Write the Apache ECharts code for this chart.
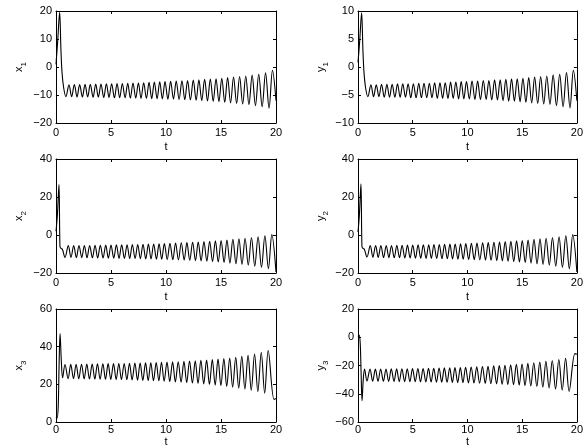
<!DOCTYPE html>
<html><head><meta charset="utf-8">
<script src="https://cdn.jsdelivr.net/npm/echarts@6/dist/echarts.min.js"></script>
<style>html,body{margin:0;padding:0;background:#fff}#c{width:586px;height:448px}</style>
</head><body><div id="c"></div>
<script>
// ---------- tick values ----------
const tTicks = [0, 5, 10, 15, 20];

// ---------- top row (x1, y1): times of extrema ----------
const topHeadT = [0, 0.15, 0.33, 0.45, 0.55, 0.7, 0.9];
const topPkT = [1.18,1.67,2.15,2.64,3.12,3.61,4.09,4.58,5.06,5.55,6.03,6.52,7.00,7.49,7.97,8.46,8.94,9.43,9.91,10.42,10.93,11.45,11.96,12.48,12.99,13.51,14.03,14.55,15.07,15.60,16.14,16.69,17.25,17.83,18.43,19.05,19.68];
const topTrT = [1.42,1.91,2.40,2.88,3.37,3.85,4.34,4.82,5.31,5.79,6.28,6.76,7.25,7.73,8.22,8.70,9.19,9.67,10.17,10.68,11.19,11.71,12.22,12.74,13.25,13.77,14.29,14.81,15.34,15.87,16.42,16.97,17.54,18.13,18.74,19.37];
const topEndT = [20];

const x1HeadV = [1, 9, 19.5, 6, -2, -7.5, -10.6];
const x1PkV = [-6.4,-6.3,-6.3,-6.2,-6.2,-6.1,-6.1,-6.0,-6.0,-5.9,-5.9,-5.8,-5.7,-5.7,-5.6,-5.5,-5.4,-5.3,-5.2,-5.1,-5.0,-4.9,-4.8,-4.7,-4.6,-4.4,-4.3,-4.2,-4.0,-3.8,-3.6,-3.4,-3.2,-2.9,-2.6,-2.1,-1.2];
const x1TrV = [-10.6,-10.7,-10.7,-10.7,-10.8,-10.8,-10.9,-10.9,-11.0,-11.0,-11.0,-11.1,-11.1,-11.2,-11.2,-11.3,-11.3,-11.4,-11.5,-11.5,-11.6,-11.7,-11.8,-11.9,-12.0,-12.1,-12.3,-12.4,-12.6,-12.8,-13.0,-13.2,-13.5,-13.8,-14.2,-14.7];
const x1EndV = [-12];

const y1HeadV = [0.8, 4.5, 9.7, 3, -1, -3.8, -5.3];
const y1PkV = [-3.2,-3.2,-3.1,-3.1,-3.1,-3.0,-3.0,-3.0,-3.0,-2.9,-2.9,-2.9,-2.8,-2.8,-2.8,-2.7,-2.7,-2.6,-2.6,-2.5,-2.5,-2.4,-2.4,-2.3,-2.3,-2.2,-2.1,-2.1,-2.0,-1.9,-1.8,-1.7,-1.6,-1.4,-1.3,-1.0,-0.6];
const y1TrV = [-5.3,-5.3,-5.4,-5.4,-5.4,-5.4,-5.4,-5.5,-5.5,-5.5,-5.5,-5.5,-5.6,-5.6,-5.6,-5.6,-5.7,-5.7,-5.7,-5.8,-5.8,-5.8,-5.9,-5.9,-6.0,-6.1,-6.1,-6.2,-6.3,-6.4,-6.5,-6.6,-6.7,-6.9,-7.1,-7.3];
const y1EndV = [-6];

// ---------- middle row (x2, y2) ----------
const midHeadT = [0, 0.12, 0.27, 0.36, 0.45, 0.58, 0.82];
const midPkT = [1.12,1.61,2.09,2.58,3.06,3.55,4.03,4.52,5.00,5.49,5.97,6.46,6.94,7.43,7.91,8.40,8.88,9.37,9.85,10.36,10.87,11.39,11.90,12.42,12.93,13.45,13.97,14.49,15.01,15.54,16.08,16.63,17.19,17.77,18.37,18.99,19.62];
const midTrT = [1.36,1.85,2.34,2.82,3.31,3.79,4.28,4.76,5.25,5.73,6.22,6.70,7.19,7.67,8.16,8.64,9.13,9.61,10.11,10.62,11.13,11.65,12.16,12.68,13.19,13.71,14.23,14.75,15.28,15.81,16.36,16.91,17.48,18.07,18.68,19.31];
const midEndT = [20];

const x2HeadV = [2, 10, 26.5, -6, -7, -7.5, -11.8];
const x2PkV = [-5.6,-5.6,-5.5,-5.5,-5.5,-5.4,-5.4,-5.3,-5.3,-5.2,-5.2,-5.1,-5.0,-5.0,-4.9,-4.8,-4.7,-4.6,-4.5,-4.4,-4.3,-4.1,-4.0,-3.8,-3.7,-3.5,-3.3,-3.1,-2.9,-2.6,-2.3,-2.0,-1.7,-1.3,-0.9,-0.4,0.2];
const x2TrV = [-11.8,-11.9,-11.9,-12.0,-12.0,-12.1,-12.1,-12.2,-12.2,-12.3,-12.3,-12.4,-12.4,-12.5,-12.6,-12.6,-12.7,-12.8,-12.9,-13.0,-13.1,-13.2,-13.3,-13.5,-13.6,-13.8,-14.0,-14.2,-14.5,-14.8,-15.1,-15.5,-15.9,-16.4,-17.0,-17.7];
const x2EndV = [-19.5];

const y2HeadV = [1.5, 10, 27, -6, -7, -7.5, -11.6];
const y2PkV = [-5.6,-5.6,-5.5,-5.5,-5.5,-5.4,-5.4,-5.3,-5.3,-5.2,-5.2,-5.1,-5.0,-5.0,-4.9,-4.8,-4.7,-4.6,-4.5,-4.4,-4.3,-4.1,-4.0,-3.8,-3.7,-3.5,-3.3,-3.1,-2.9,-2.6,-2.3,-2.0,-1.7,-1.3,-0.9,-0.4,0.2];
const y2TrV = [-11.7,-11.8,-11.9,-11.9,-12.0,-12.0,-12.1,-12.1,-12.2,-12.2,-12.3,-12.3,-12.4,-12.5,-12.5,-12.6,-12.7,-12.8,-12.9,-13.0,-13.1,-13.2,-13.3,-13.5,-13.6,-13.8,-14.0,-14.2,-14.5,-14.8,-15.1,-15.5,-15.9,-16.4,-17.0,-17.8];
const y2EndV = [-19.5];

// ---------- bottom row (x3, y3) ----------
const botHeadT = [0, 0.1, 0.2, 0.28, 0.37, 0.48, 0.6];
const botPkT = [0.82,1.34,1.83,2.32,2.80,3.29,3.77,4.26,4.74,5.23,5.71,6.20,6.68,7.17,7.65,8.14,8.62,9.11,9.59,10.09,10.60,11.11,11.63,12.14,12.66,13.17,13.69,14.21,14.73,15.26,15.79,16.34,16.89,17.46,18.05,18.66,19.29];
const botTrT = [1.10,1.59,2.07,2.56,3.04,3.53,4.01,4.50,4.98,5.47,5.95,6.44,6.92,7.41,7.89,8.38,8.86,9.35,9.83,10.34,10.85,11.37,11.88,12.40,12.91,13.43,13.95,14.47,14.99,15.52,16.06,16.61,17.17,17.75,18.35,18.97,19.82];
const botEndT = [20];

const x3HeadV = [2.5, 2, 8, 30, 47, 33, 23.5];
const x3PkV = [30.5,30.6,30.7,30.7,30.8,30.8,30.9,30.9,31.0,31.0,31.1,31.1,31.2,31.3,31.3,31.4,31.5,31.6,31.7,31.8,31.9,32.0,32.2,32.3,32.5,32.7,32.9,33.1,33.4,33.7,34.0,34.4,34.9,35.4,36.1,36.9,38.0];
const x3TrV = [23.0,23.0,22.9,22.9,22.8,22.8,22.7,22.7,22.6,22.5,22.5,22.4,22.3,22.2,22.1,22.0,21.9,21.8,21.6,21.5,21.3,21.1,20.9,20.7,20.5,20.2,19.9,19.6,19.3,18.9,18.5,18.0,17.5,16.9,16.2,15.3,12.0];
const x3EndV = [12.5];

const y3HeadV = [0.5, 1.5, -4, -24, -45, -30, -22.5];
const y3TrV = [-31.0,-31.1,-31.2,-31.2,-31.3,-31.3,-31.4,-31.4,-31.5,-31.5,-31.6,-31.6,-31.7,-31.8,-31.8,-31.9,-32.0,-32.1,-32.2,-32.3,-32.4,-32.5,-32.7,-32.8,-33.0,-33.2,-33.4,-33.6,-33.9,-34.2,-34.5,-34.9,-35.4,-35.9,-36.6,-37.4,-38.3];
const y3PkV = [-22.6,-22.6,-22.5,-22.5,-22.4,-22.4,-22.3,-22.3,-22.2,-22.1,-22.1,-22.0,-21.9,-21.8,-21.7,-21.6,-21.5,-21.4,-21.2,-21.1,-20.9,-20.7,-20.5,-20.3,-20.1,-19.8,-19.5,-19.2,-18.9,-18.5,-18.1,-17.6,-17.1,-16.5,-15.8,-14.9,-11.6];
const y3EndV = [-12];

// ---------- assemble ----------
function build(groups) {
  const pts = [];
  groups.forEach(([ts, vs]) => ts.forEach((t, i) => pts.push([t, vs[i]])));
  pts.sort((a, b) => a[0] - b[0]);
  return pts;
}

const FONT = "'Liberation Sans', Arial, Helvetica, sans-serif";
const FS = 11;
const fmt = v => (v < 0 ? '\u2212' + Math.abs(v) : String(v));

const panels = [
  { letter: 'x', sub: '1', min: -20, max: 20, interval: 10,
    data: build([[topHeadT, x1HeadV], [topPkT, x1PkV], [topTrT, x1TrV], [topEndT, x1EndV]]),
    left: 56, top: 11, width: 220, height: 112 },
  { letter: 'y', sub: '1', min: -10, max: 10, interval: 5,
    data: build([[topHeadT, y1HeadV], [topPkT, y1PkV], [topTrT, y1TrV], [topEndT, y1EndV]]),
    left: 358, top: 11, width: 219, height: 112 },
  { letter: 'x', sub: '2', min: -20, max: 40, interval: 20,
    data: build([[midHeadT, x2HeadV], [midPkT, x2PkV], [midTrT, x2TrV], [midEndT, x2EndV]]),
    left: 56, top: 159, width: 220, height: 114 },
  { letter: 'y', sub: '2', min: -20, max: 40, interval: 20,
    data: build([[midHeadT, y2HeadV], [midPkT, y2PkV], [midTrT, y2TrV], [midEndT, y2EndV]]),
    left: 358, top: 159, width: 219, height: 114 },
  { letter: 'x', sub: '3', min: 0, max: 60, interval: 20,
    data: build([[botHeadT, x3HeadV], [botPkT, x3PkV], [botTrT, x3TrV], [botEndT, x3EndV]]),
    left: 56, top: 309, width: 220, height: 114 },
  { letter: 'y', sub: '3', min: -60, max: 20, interval: 20,
    data: build([[botHeadT, y3HeadV], [botPkT, y3TrV], [botTrT, y3PkV], [botEndT, y3EndV]]),
    left: 358, top: 309, width: 219, height: 114 }
];

const grid = [], xAxis = [], yAxis = [], series = [];
const lineStyle = { color: '#000', width: 1 };
const tick = { show: true, inside: true, length: 3, lineStyle: { color: '#000', width: 1 } };
const labelStyle = { color: '#000', fontSize: FS, fontFamily: FONT };

panels.forEach((p, i) => {
  const bottomRow = i >= 4;
  grid.push({ left: p.left, top: p.top, width: p.width, height: p.height, containLabel: false });
  xAxis.push({
    type: 'value', gridIndex: i, min: 0, max: 20, interval: 5, position: 'bottom',
    axisLine: { show: true, onZero: false, lineStyle },
    axisTick: tick, splitLine: { show: false },
    axisLabel: Object.assign({ margin: bottomRow ? 2 : 4, formatter: fmt }, labelStyle),
    name: 't', nameLocation: 'middle', nameGap: bottomRow ? 14 : 18,
    nameTextStyle: { color: '#000', fontSize: FS, fontFamily: FONT }
  });
  xAxis.push({
    type: 'value', gridIndex: i, min: 0, max: 20, interval: 5, position: 'top',
    axisLine: { show: true, onZero: false, lineStyle },
    axisTick: tick, splitLine: { show: false }, axisLabel: { show: false }
  });
  yAxis.push({
    type: 'value', gridIndex: i, min: p.min, max: p.max, interval: p.interval, position: 'left',
    axisLine: { show: true, onZero: false, lineStyle },
    axisTick: tick, splitLine: { show: false },
    axisLabel: Object.assign({ margin: 4, formatter: fmt }, labelStyle),
    name: '{a|' + p.letter + '}{s|' + p.sub + '}{z| }',
    nameLocation: 'middle', nameGap: 28, nameRotate: 90,
    nameTextStyle: {
      color: '#000', fontFamily: FONT,
      rich: {
        a: { fontSize: FS, lineHeight: 11, verticalAlign: 'top', fontFamily: FONT, color: '#000' },
        s: { fontSize: 8, lineHeight: 8, verticalAlign: 'bottom', fontFamily: FONT, color: '#000' },
        z: { fontSize: 1, lineHeight: 15 }
      }
    }
  });
  yAxis.push({
    type: 'value', gridIndex: i, min: p.min, max: p.max, interval: p.interval, position: 'right',
    axisLine: { show: true, onZero: false, lineStyle },
    axisTick: tick, splitLine: { show: false }, axisLabel: { show: false }
  });
  series.push({
    type: 'line', xAxisIndex: 2 * i, yAxisIndex: 2 * i, data: p.data,
    showSymbol: false, symbol: 'none', smooth: 0.35, clip: true,
    lineStyle: { color: '#000', width: 1.1 }, silent: true
  });
});

const chart = echarts.init(document.getElementById('c'), null, { renderer: 'canvas' });
chart.setOption({ animation: false, backgroundColor: '#fff', grid, xAxis, yAxis, series });
</script>
</body></html>
